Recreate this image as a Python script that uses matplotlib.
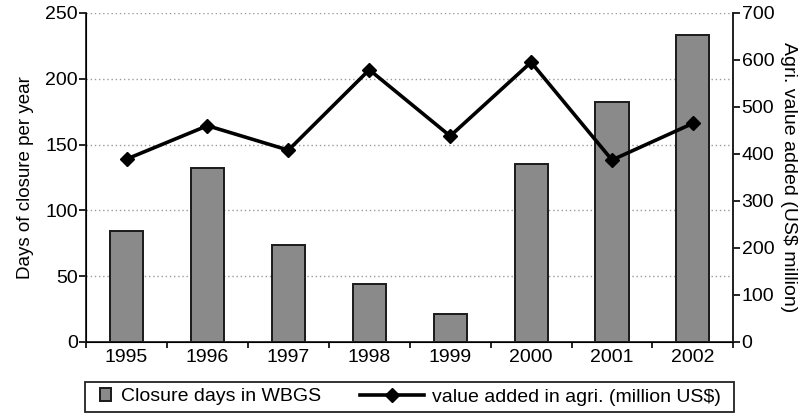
import matplotlib
matplotlib.use("Agg")
import matplotlib.pyplot as plt
from matplotlib.patches import Rectangle
import numpy as np

# data
years = ["1995", "1996", "1997", "1998", "1999", "2000", "2001", "2002"]
closure_days = [84, 132, 74, 44, 21, 135, 182, 233]
agri_value = [389, 460, 408, 579, 438, 595, 387, 465]

plt.rcParams['font.family'] = ['Liberation Sans', 'DejaVu Sans']
plt.rcParams['font.size'] = 14

fig = plt.figure(figsize=(8.05, 4.15), dpi=100)
ax = fig.add_axes([0.107, 0.176, 0.804, 0.793])
x = np.arange(len(years))

bars = ax.bar(x, closure_days, width=0.41, color='#8a8a8a', edgecolor='#1a1a1a',
              linewidth=1.4, label='Closure days in WBGS', zorder=2)
ax.set_xlim(-0.5, len(years) - 0.5)
ax.set_ylim(0, 250)
ax.set_yticks(range(0, 251, 50))
ax.set_xticks(x)
ax.set_xticklabels(years)
ax.set_xticks(np.arange(-0.5, len(years), 1), minor=True)
ax.tick_params(axis='x', which='major', length=0, pad=5)
ax.tick_params(axis='x', which='minor', length=4, width=1.2, direction='out')
ax.tick_params(axis='y', length=5, width=1.2, pad=1)
ax.yaxis.grid(True, linestyle=(0, (1, 2)), color='#9a9a9a', linewidth=1, zorder=0)
ax.set_axisbelow(True)
ax.spines['top'].set_visible(False)
for s in ['left', 'bottom', 'right']:
    ax.spines[s].set_linewidth(1.3)
    ax.spines[s].set_color('#222222')
ax.set_ylabel("Days of closure per year", fontsize=13.5, labelpad=8)

ax2 = ax.twinx()
line, = ax2.plot(x, agri_value, color='black', linewidth=2.6, marker='D', markersize=7,
                 label='value added in agri. (million US$)', zorder=3)
ax2.set_ylim(0, 700)
ax2.set_yticks(range(0, 701, 100))
ax2.tick_params(axis='y', length=5, width=1.2, pad=1)
ax2.spines['top'].set_visible(False)
ax2.spines['right'].set_linewidth(1.3)
ax2.spines['right'].set_color('#222222')
ax2.set_ylabel("Agri. value added (US$ million)", rotation=270, labelpad=16)

# legend: one box, bar entry at left with a small square, line entry at right
box = Rectangle((0.106, 0.008), 0.806, 0.072, transform=fig.transFigure,
                fill=False, edgecolor='#222222', linewidth=1.3)
fig.add_artist(box)
fig.legend([bars.patches[0]], [bars.get_label()], loc='center left',
           bbox_to_anchor=(0.102, 0.044), frameon=False, fontsize=14,
           handlelength=0.6, handleheight=0.6, handletextpad=0.5)
fig.legend([line], [line.get_label()], loc='center right',
           bbox_to_anchor=(0.917, 0.044), frameon=False, fontsize=14,
           handlelength=3.3, handletextpad=0.4)

fig.savefig("out.png", dpi=100)
